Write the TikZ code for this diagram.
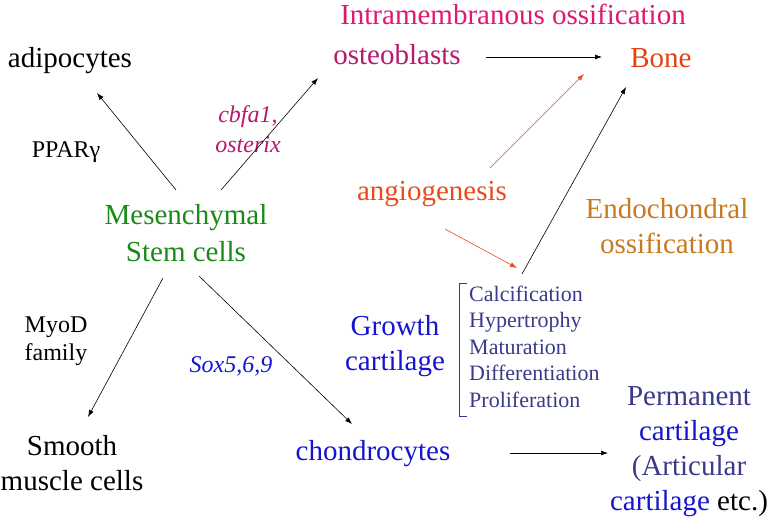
\documentclass[tikz,border=0pt]{standalone}
\usepackage{fontspec}
\setmainfont{Liberation Serif}
\usetikzlibrary{arrows,arrows.meta,positioning}
\definecolor{intrapink}{HTML}{E0186E}
\definecolor{osteopink}{HTML}{B8186E}
\definecolor{bonered}{HTML}{E6400F}
\definecolor{angiored}{HTML}{E84B1E}
\definecolor{endobrown}{HTML}{C87A20}
\definecolor{mscgreen}{HTML}{188A18}
\definecolor{cartblue}{HTML}{1515D0}
\definecolor{stageblue}{HTML}{3A3A8A}

\begin{document}
\begin{tikzpicture}
[x=1pt,y=-1pt,
big/.style={font=\fontsize{29}{35}\selectfont,inner sep=0pt,align=center,anchor=base},
small/.style={font=\fontsize{24}{29}\selectfont,inner sep=0pt,align=center,anchor=base},
edge/.style={black,>={Latex[length=7pt,width=5pt]},line width=.6pt,->},
angio/.style={edge,angiored}]
\useasboundingbox (0,0) rectangle (776,519);
%% labels (multi-line ones sit on their last baseline)
\node[big,intrapink] (intra) at (513,25) {Intramembranous ossification};
\node[big,osteopink] (osteo) at (397,65) {osteoblasts};
\node[big] (adipo) at (70,67) {adipocytes};
\node[big,bonered] (bone) at (661,67) {Bone};
\node[small] (ppar) at (66,157) {PPARγ};
\node[small,osteopink,font=\fontsize{24}{30}\selectfont] (cbfa) at (248,152) {\textit{cbfa1,}\\\textit{osterix}};
\node[big,mscgreen,font=\fontsize{29}{37}\selectfont] (msc) at (186,261) {Mesenchymal\\Stem cells};
\node[big,angiored] (angio) at (432,200) {angiogenesis};
\node[big,endobrown] (endo) at (667,253) {Endochondral\\ossification};
\node[big,cartblue] (growth) at (395,370) {Growth\\cartilage};
\node[small,stageblue,align=left,anchor=base west,font=\fontsize{22}{26.5}\selectfont]
  (stages) at (469,407) {Calcification\\Hypertrophy\\Maturation\\Differentiation\\Proliferation};
\node[small,font=\fontsize{24}{28}\selectfont] (myod) at (56,360) {MyoD\\family};
\node[small,cartblue] (sox) at (231,372) {\textit{Sox5,6,9}};
\node[big] (smc) at (72,490) {Smooth\\muscle cells};
\node[big,cartblue] (chondro) at (373,460) {chondrocytes};
\node[big,stageblue] (perm) at (689,510) {Permanent\\\textcolor{cartblue}{cartilage}\\(Articular\\
  \textcolor{cartblue}{cartilage} \textcolor{black}{etc.)}};
%% arrow ends
\coordinate (msc-nw) at (176,190);
\coordinate (msc-ne) at (221,190);
\coordinate (msc-sw) at (163,278);
\coordinate (msc-se) at (199,276);
\coordinate (adipo-in) at (97,93);
\coordinate (osteo-in) at (318,78);
\coordinate (smc-in) at (88,417);
\coordinate (chondro-in) at (352,424);
\coordinate (osteo-out) at (486,57);
\coordinate (bone-w) at (602,57);
\coordinate (angio-ne) at (490,168);
\coordinate (bone-sw) at (584,74);
\coordinate (angio-se) at (445,229);
\coordinate (stages-in) at (517,268);
\coordinate (stages-out) at (522,274);
\coordinate (bone-s) at (626,87);
\coordinate (chondro-out) at (510,453);
\coordinate (perm-in) at (608,453);
%% connectors
\draw[edge] (msc-nw) -- (adipo-in);
\draw[edge] (msc-ne) -- (osteo-in);
\draw[edge] (msc-sw) -- (smc-in);
\draw[edge] (msc-se) -- (chondro-in);
\draw[edge] (osteo-out) -- (bone-w);
\draw[angio] (angio-ne) -- (bone-sw);
\draw[angio] (angio-se) -- (stages-in);
\draw[edge] (stages-out) -- (bone-s);
\draw[edge] (chondro-out) -- (perm-in);
%% bracket
\draw[stageblue,line width=.6pt] (467,283) -- (459,283) -- (459,416) -- (467,416);
\end{tikzpicture}
\end{document}
